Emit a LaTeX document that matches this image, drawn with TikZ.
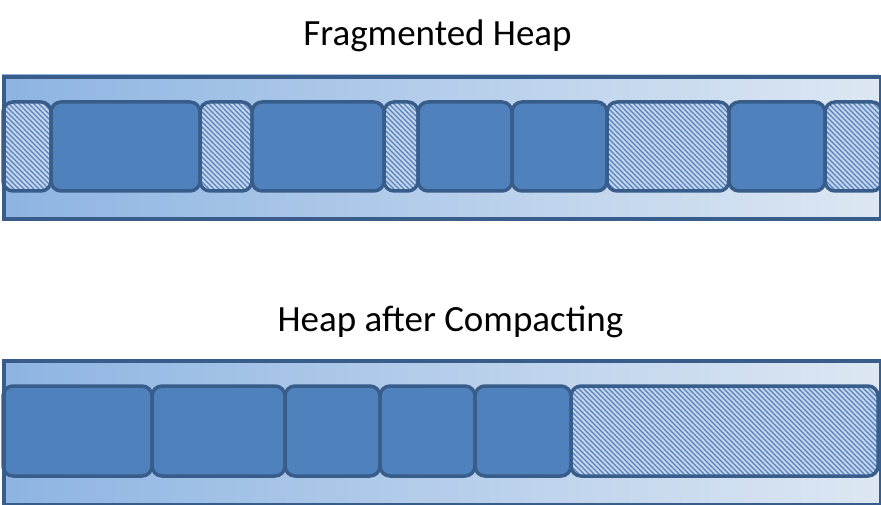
\documentclass[tikz,border=0pt]{standalone}
\usepackage{fontspec}
\setmainfont{Carlito}
\usetikzlibrary{patterns.meta}
\definecolor{blk}{RGB}{79,129,189}
\definecolor{edge}{RGB}{56,93,138}
\definecolor{hbg}{RGB}{198,213,235}
\definecolor{gradL}{RGB}{141,180,226}
\definecolor{gradR}{RGB}{221,231,243}
\tikzset{
  heapbar/.style={left color=gradL, right color=gradR},
  heapedge/.style={draw=edge, line width=4pt},
  memblk/.style={draw=edge, line width=3.5pt, rounded corners=10pt, anchor=north west, inner sep=0pt, outer sep=0pt},
  usedblk/.style={memblk, fill=blk},
  freeblk/.style={memblk, preaction={fill=hbg}, pattern={Lines[angle=-45,distance=3.5355pt,line width=1.4pt]}, pattern color=blk},
  title/.style={font=\fontsize{37}{44}\selectfont, anchor=base, inner sep=0pt}
}
\newcommand{\blkat}[6]{\node[#1, minimum width=#4-#3, minimum height=#6-#5] (#2) at (#3,#5) {};}
\begin{document}
\begin{tikzpicture}[x=1pt,y=-1pt]
\useasboundingbox (0,0) rectangle (881,505);
% titles
\node[title] (t1) at (437.5,45.7) {Fragmented Heap};
\node[title] (t2) at (450.5,331) {Heap after Compacting};
% top heap
\fill[heapbar] (2,75) rectangle (879,217);
\blkat{freeblk}{a1}{3}{51}{102}{191}
\blkat{usedblk}{a2}{51}{200}{102}{191}
\blkat{freeblk}{a3}{200}{252}{102}{191}
\blkat{usedblk}{a4}{252}{384}{102}{191}
\blkat{freeblk}{a5}{384}{418}{102}{191}
\blkat{usedblk}{a6}{418}{512}{102}{191}
\blkat{usedblk}{a7}{512}{607}{102}{191}
\blkat{freeblk}{a8}{607}{729}{102}{191}
\blkat{usedblk}{a9}{729}{825}{102}{191}
\blkat{freeblk}{a10}{825}{882}{102}{191}
\node[heapedge, inner sep=0pt, minimum width=877pt, minimum height=142pt, anchor=north west] (top) at (2,75) {};
% bottom heap
\fill[heapbar] (2,359) rectangle (879,503);
\blkat{usedblk}{b1}{3}{152}{386}{476}
\blkat{usedblk}{b2}{152}{285}{386}{476}
\blkat{usedblk}{b3}{285}{380}{386}{476}
\blkat{usedblk}{b4}{380}{475}{386}{476}
\blkat{usedblk}{b5}{475}{571}{386}{476}
\blkat{freeblk}{b6}{571}{878}{386}{476}
\node[heapedge, inner sep=0pt, minimum width=877pt, minimum height=144pt, anchor=north west] (bot) at (2,359) {};
\end{tikzpicture}
\end{document}
